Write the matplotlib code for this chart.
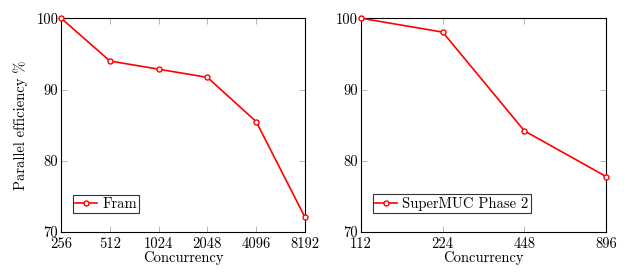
import matplotlib
matplotlib.use('Agg')
import matplotlib.pyplot as plt
import numpy as np

plt.rcParams['font.family'] = 'cmr10'
plt.rcParams['mathtext.fontset'] = 'cm'
plt.rcParams['axes.formatter.use_mathtext'] = True

fram_x = [256, 512, 1024, 2048, 4096, 8192]
fram_y = [100.0, 94.0, 92.85, 91.7, 85.5, 72.1]

smuc_x = [112, 224, 448, 896]
smuc_y = [100.0, 98.05, 84.2, 77.8]

yticks = [70, 80, 90, 100]

fig = plt.figure(figsize=(6.3, 2.76), dpi=100)
ax1 = fig.add_axes([0.097, 0.159, 0.387, 0.775])
ax2 = fig.add_axes([0.573, 0.159, 0.389, 0.775])

for ax, xs, ys, label in [(ax1, fram_x, fram_y, 'Fram'),
                          (ax2, smuc_x, smuc_y, 'SuperMUC Phase 2')]:
    ax.plot(xs, ys, color='red', lw=1.2, marker='o', markersize=3.6,
            markerfacecolor='white', markeredgecolor='red', markeredgewidth=1.0,
            label=label, clip_on=False, zorder=5)
    ax.set_xscale('log', base=2)
    ax.set_xlim(xs[0], xs[-1])
    ax.set_xticks(xs)
    ax.set_xticklabels([str(v) for v in xs])
    ax.minorticks_off()
    ax.set_ylim(70, 100)
    ax.set_yticks(yticks)
    ax.set_yticklabels([str(v) for v in yticks])
    ax.tick_params(direction='in', top=True, right=True, length=4,
                   width=0.6, color='#aaaaaa', labelsize=10.5, pad=2)
    ax.tick_params(axis='x', pad=4)
    for s in ax.spines.values():
        s.set_linewidth(0.8)
    ax.set_xlabel('Concurrency', fontsize=10.5, labelpad=0)
    leg = ax.legend(loc='lower left', bbox_to_anchor=(0.05, 0.09), fontsize=10.5,
                    fancybox=False, edgecolor='#333333', framealpha=1,
                    handlelength=1.5, handletextpad=0.35, borderpad=0.15,
                    borderaxespad=0)
    leg.get_frame().set_linewidth(0.8)

ax1.set_ylabel('Parallel efficiency %', fontsize=10.5, labelpad=6)

fig.savefig('out.png', dpi=100)
